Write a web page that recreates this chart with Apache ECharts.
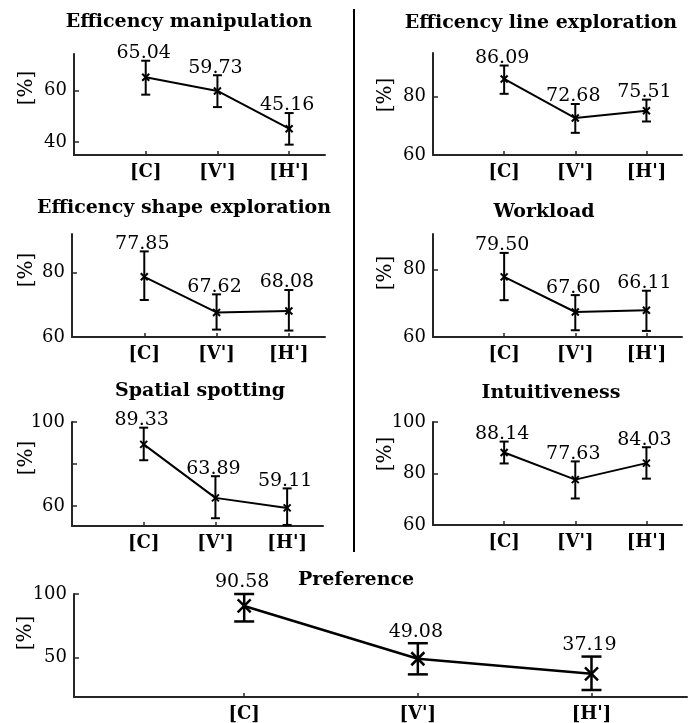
<!DOCTYPE html>
<html><head><meta charset="utf-8">
<script src="https://cdn.jsdelivr.net/npm/echarts@6/dist/echarts.min.js"></script>
<style>html,body{margin:0;padding:0;background:#fff}#c{width:689px;height:723px}</style>
</head><body><div id="c"></div>
<script>
// ---------- data ----------
const categories = ["[C]", "[V']", "[H']"];
const panelTitles = ["Efficency manipulation", "Efficency line exploration", "Efficency shape exploration",
  "Workload", "Spatial spotting", "Intuitiveness", "Preference"];
const yAxisTitle = "[%]";

const manipMean = [65.04, 59.73, 45.16];
const manipLow = [58.3, 53.5, 39.0];
const manipHigh = [71.4, 65.8, 51.2];
const manipLabels = ["65.04", "59.73", "45.16"];

const lineMean = [86.09, 72.68, 75.2];
const lineLow = [81.0, 67.6, 71.5];
const lineHigh = [90.7, 77.5, 79.0];
const lineLabels = ["86.09", "72.68", "75.51"];

const shapeMean = [78.7, 67.62, 68.08];
const shapeLow = [71.5, 62.3, 62.0];
const shapeHigh = [86.6, 73.25, 74.6];
const shapeLabels = ["77.85", "67.62", "68.08"];

const workMean = [77.8, 67.4, 67.9];
const workLow = [70.9, 62.0, 61.8];
const workHigh = [84.9, 72.4, 73.7];
const workLabels = ["79.50", "67.60", "66.11"];

const spatialMean = [89.33, 63.89, 59.11];
const spatialLow = [81.8, 54.2, 51.0];
const spatialHigh = [97.3, 74.2, 68.4];
const spatialLabels = ["89.33", "63.89", "59.11"];

const intuMean = [88.14, 77.63, 84.03];
const intuLow = [83.9, 70.3, 78.0];
const intuHigh = [92.4, 84.7, 90.2];
const intuLabels = ["88.14", "77.63", "84.03"];

const prefMean = [90.58, 49.08, 37.19];
const prefLow = [78.4, 36.8, 24.5];
const prefHigh = [100, 61.3, 50.8];
const prefLabels = ["90.58", "49.08", "37.19"];

const yTicks = [[40, 60], [60, 80], [60, 80], [60, 80], [60, 80, 100], [60, 80, 100], [50, 100]];
const yTickLabels = [[40, 60], [60, 80], [60, 80], [60, 80], [60, 100], [60, 80, 100], [50, 100]];
const yRanges = [[35, 74], [60, 95], [60, 92], [60, 90.5], [50.5, 100], [60, 100], [19, 100]];

// ---------- layout ----------
const FONT = "'DejaVu Serif', serif";
const AX = '#262626';
const panels = [
  {mean: manipMean, low: manipLow, high: manipHigh, labels: manipLabels, grid: {left: 74, top: 54, width: 251, height: 101}, x: [0, 3.5], title: [189, 22], ylab: [27, 88], big: false},
  {mean: lineMean, low: lineLow, high: lineHigh, labels: lineLabels, grid: {left: 433, top: 53, width: 249, height: 102}, x: [0, 3.5], title: [541, 23], ylab: [386, 95], big: false},
  {mean: shapeMean, low: shapeLow, high: shapeHigh, labels: shapeLabels, grid: {left: 72, top: 234, width: 253, height: 103}, x: [0, 3.5], title: [184, 208], ylab: [27, 270], big: false},
  {mean: workMean, low: workLow, high: workHigh, labels: workLabels, grid: {left: 433, top: 234, width: 249, height: 103}, x: [0, 3.5], title: [544, 212], ylab: [386, 273], big: false},
  {mean: spatialMean, low: spatialLow, high: spatialHigh, labels: spatialLabels, grid: {left: 72, top: 422, width: 251, height: 104}, x: [0, 3.5], title: [200, 391], ylab: [27, 458], big: false},
  {mean: intuMean, low: intuLow, high: intuHigh, labels: intuLabels, grid: {left: 433, top: 422, width: 249, height: 103}, x: [0, 3.5], title: [551, 393], ylab: [386, 454], big: false},
  {mean: prefMean, low: prefLow, high: prefHigh, labels: prefLabels, grid: {left: 74, top: 594, width: 613, height: 103}, x: [0.02, 3.55], title: [356, 580], ylab: [26, 633], big: true}
];

const grids = [], xAxes = [], yAxes = [], series = [], graphics = [];

panels.forEach((p, i) => {
  grids.push(Object.assign({}, p.grid));
  xAxes.push({
    type: 'value', gridIndex: i, min: p.x[0], max: p.x[1],
    axisLine: {show: true, onZero: false, lineStyle: {color: AX, width: 2}},
    axisTick: {show: true, inside: true, length: 4, customValues: [1, 2, 3], lineStyle: {color: AX, width: 1.5}},
    axisLabel: {customValues: [1, 2, 3], formatter: v => categories[Math.round(v) - 1],
      fontFamily: FONT, fontWeight: 'bold', fontSize: 18, color: '#000', margin: 8},
    splitLine: {show: false}
  });
  yAxes.push({
    type: 'value', gridIndex: i, min: yRanges[i][0], max: yRanges[i][1],
    axisLine: {show: true, onZero: false, lineStyle: {color: AX, width: 2}},
    axisTick: {show: true, inside: true, length: 5, customValues: yTicks[i], lineStyle: {color: AX, width: 1.5}},
    axisLabel: {customValues: yTickLabels[i], fontFamily: FONT, fontSize: 18, color: '#000', margin: 7},
    splitLine: {show: false}
  });
  series.push({
    type: 'line', xAxisIndex: i, yAxisIndex: i, symbol: 'none', silent: true, z: 2,
    lineStyle: {color: '#000', width: p.big ? 2.5 : 2},
    data: p.mean.map((m, k) => [k + 1, m])
  });
  const cap = p.big ? 10 : 4.5, mk = p.big ? 6.5 : 3.5, lw = p.big ? 2.5 : 2;
  const lblOff = p.big ? -2 : 2;
  series.push({
    type: 'custom', xAxisIndex: i, yAxisIndex: i, z: 3, silent: true, clip: false,
    data: p.mean.map((m, k) => [k + 1, m, p.low[k], p.high[k], k]),
    renderItem: (params, api) => {
      const x = api.value(0), m = api.value(1), lo = api.value(2), hi = api.value(3), k = api.value(4);
      const pm = api.coord([x, m]), pl = api.coord([x, lo]), ph = api.coord([x, hi]);
      const st = {stroke: '#000', lineWidth: lw};
      return {type: 'group', children: [
        {type: 'line', shape: {x1: pl[0], y1: pl[1], x2: ph[0], y2: ph[1]}, style: st},
        {type: 'line', shape: {x1: pl[0] - cap, y1: pl[1], x2: pl[0] + cap, y2: pl[1]}, style: st},
        {type: 'line', shape: {x1: ph[0] - cap, y1: ph[1], x2: ph[0] + cap, y2: ph[1]}, style: st},
        {type: 'line', shape: {x1: pm[0] - mk, y1: pm[1] - mk, x2: pm[0] + mk, y2: pm[1] + mk}, style: {stroke: '#000', lineWidth: lw}},
        {type: 'line', shape: {x1: pm[0] - mk, y1: pm[1] + mk, x2: pm[0] + mk, y2: pm[1] - mk}, style: {stroke: '#000', lineWidth: lw}},
        {type: 'text', style: {text: p.labels[k], x: ph[0] - 2, y: ph[1] + lblOff, align: 'center', verticalAlign: 'bottom',
          fontFamily: FONT, fontSize: 19, fill: '#000'}}
      ]};
    }
  });
  graphics.push({type: 'text', x: p.title[0], y: p.title[1], style: {text: panelTitles[i], align: 'center', verticalAlign: 'middle',
    fontFamily: FONT, fontWeight: 'bold', fontSize: 19, fill: '#000'}});
  graphics.push({type: 'text', x: p.ylab[0], y: p.ylab[1], rotation: Math.PI / 2, style: {text: yAxisTitle, align: 'center', verticalAlign: 'middle',
    fontFamily: FONT, fontSize: 20, fill: '#000'}});
});

graphics.push({type: 'line', shape: {x1: 354, y1: 9, x2: 354, y2: 552}, style: {stroke: '#000', lineWidth: 2}});

const chart = echarts.init(document.getElementById('c'), null, {renderer: 'canvas'});
chart.setOption({
  animation: false,
  backgroundColor: '#fff',
  grid: grids, xAxis: xAxes, yAxis: yAxes, series: series, graphic: graphics
});
</script></body></html>
